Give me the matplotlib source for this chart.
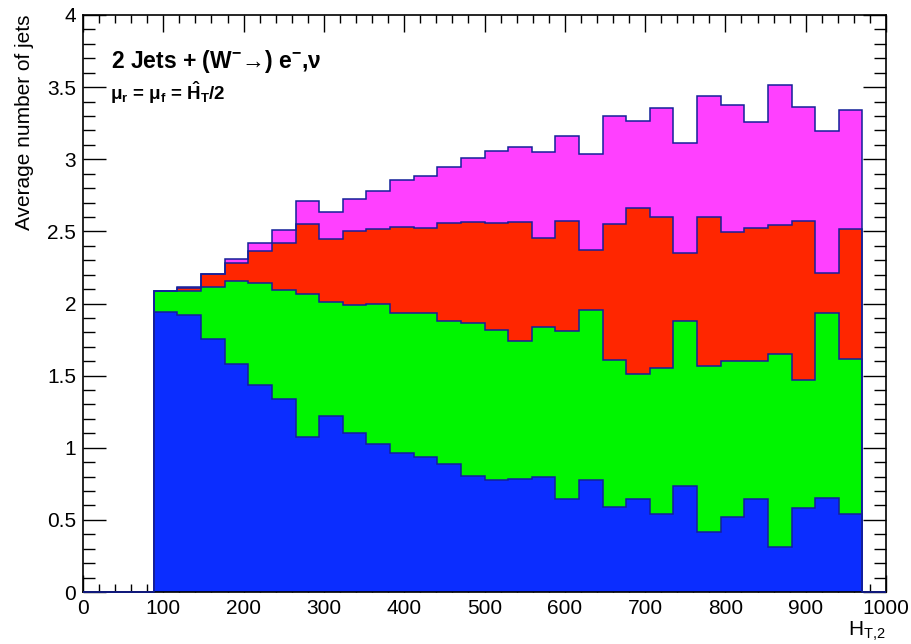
import numpy as np
import matplotlib
matplotlib.use('Agg')
import matplotlib.pyplot as plt
from matplotlib.ticker import MultipleLocator

plt.rcParams['font.family'] = ['Liberation Sans', 'DejaVu Sans']
plt.rcParams['mathtext.fontset'] = 'custom'
plt.rcParams['mathtext.rm'] = 'Liberation Sans'
plt.rcParams['mathtext.it'] = 'Liberation Sans:italic'
plt.rcParams['mathtext.bf'] = 'Liberation Sans:bold'

# histogram binning: 34 bins over 0..1000, filled bins 3..32
n_bins = 34
x_min, x_max = 0, 1000
first_bin = 3

# stack levels (cumulative tops), one value per filled bin
blue_top = [1.942, 1.917, 1.753, 1.580, 1.434, 1.335, 1.074, 1.219, 1.102, 1.028,
            0.961, 0.933, 0.887, 0.806, 0.776, 0.780, 0.795, 0.647, 0.775, 0.588,
            0.644, 0.540, 0.734, 0.418, 0.518, 0.644, 0.309, 0.583, 0.651, 0.542]
green_top = [2.085, 2.087, 2.117, 2.159, 2.145, 2.096, 2.064, 2.008, 1.990, 1.999,
             1.937, 1.937, 1.879, 1.863, 1.818, 1.738, 1.835, 1.808, 1.954, 1.609,
             1.512, 1.553, 1.881, 1.570, 1.599, 1.604, 1.653, 1.471, 1.932, 1.616]
red_top = [2.090, 2.108, 2.202, 2.281, 2.364, 2.422, 2.549, 2.445, 2.505, 2.519,
           2.530, 2.521, 2.555, 2.567, 2.557, 2.564, 2.455, 2.574, 2.372, 2.550,
           2.664, 2.601, 2.348, 2.601, 2.494, 2.523, 2.547, 2.569, 2.212, 2.513]
magenta_top = [2.090, 2.112, 2.207, 2.309, 2.417, 2.510, 2.708, 2.632, 2.724, 2.777,
               2.856, 2.886, 2.943, 3.007, 3.058, 3.087, 3.053, 3.162, 3.038, 3.301,
               3.267, 3.352, 3.111, 3.439, 3.374, 3.257, 3.515, 3.359, 3.196, 3.340]

layers = [
    (magenta_top, '#ff40ff'),
    (red_top, '#ff2600'),
    (green_top, '#00f500'),
    (blue_top, '#0b2dff'),
]
edge_color = '#14209a'

edges = np.linspace(x_min, x_max, n_bins + 1)


def full_hist(vals):
    h = np.zeros(n_bins)
    h[first_bin:first_bin + len(vals)] = vals
    return h


fig = plt.figure(figsize=(9.11, 6.44), dpi=100)
ax = fig.add_axes([83 / 911, 52 / 644, 803 / 911, 577 / 644])

for i, (vals, col) in enumerate(layers):
    h = full_hist(vals)
    ax.stairs(h, edges, fill=True, color=col, baseline=0, zorder=2)
    # last (bottom) layer outline is drawn over the frame, like ROOT does
    ax.stairs(h, edges, color=edge_color, linewidth=1.1, baseline=0,
              zorder=6 if i == len(layers) - 1 else 3, clip_on=False)

ax.set_xlim(x_min, x_max)
ax.set_ylim(0, 4)
ax.xaxis.set_major_locator(MultipleLocator(100))
ax.xaxis.set_minor_locator(MultipleLocator(20))
ax.yaxis.set_major_locator(MultipleLocator(0.5))
ax.yaxis.set_minor_locator(MultipleLocator(0.1))
ax.xaxis.set_major_formatter(lambda v, p: f'{v:g}')
ax.yaxis.set_major_formatter(lambda v, p: f'{v:g}')
ax.tick_params(axis='both', which='both', direction='in', top=True, right=True,
               labelsize=15, width=1, colors='black')
ax.tick_params(axis='x', which='major', length=12.2, pad=5)
ax.tick_params(axis='x', which='minor', length=6.1)
ax.tick_params(axis='y', which='major', length=16.8, pad=5)
ax.tick_params(axis='y', which='minor', length=8.4)
for s in ax.spines.values():
    s.set_linewidth(1.2)
    s.set_zorder(5)

fig.text(25 / 911, 1 - 15 / 644, 'Average number of jets', rotation=90,
         ha='center', va='top', fontsize=15)
fig.text(886 / 911, 1 - 636 / 644, r'H$_{\mathregular{T{,}2}}$', ha='right',
         va='baseline', fontsize=15)

fig.text(111 / 911, 1 - 68 / 644,
         r'2 Jets + (W$^{\mathbf{-}}$→) e$^{\mathbf{-}}$,ν',
         ha='left', va='baseline', fontsize=16.5, fontweight='bold')
fig.text(110 / 911, 1 - 100 / 644,
         r'μ$_{\mathbf{r}}$ = μ$_{\mathbf{f}}$ = $\mathbf{\hat{H}_{T}}$/2',
         ha='left', va='baseline', fontsize=13.5, fontweight='bold')

fig.savefig('out.png', dpi=100)
